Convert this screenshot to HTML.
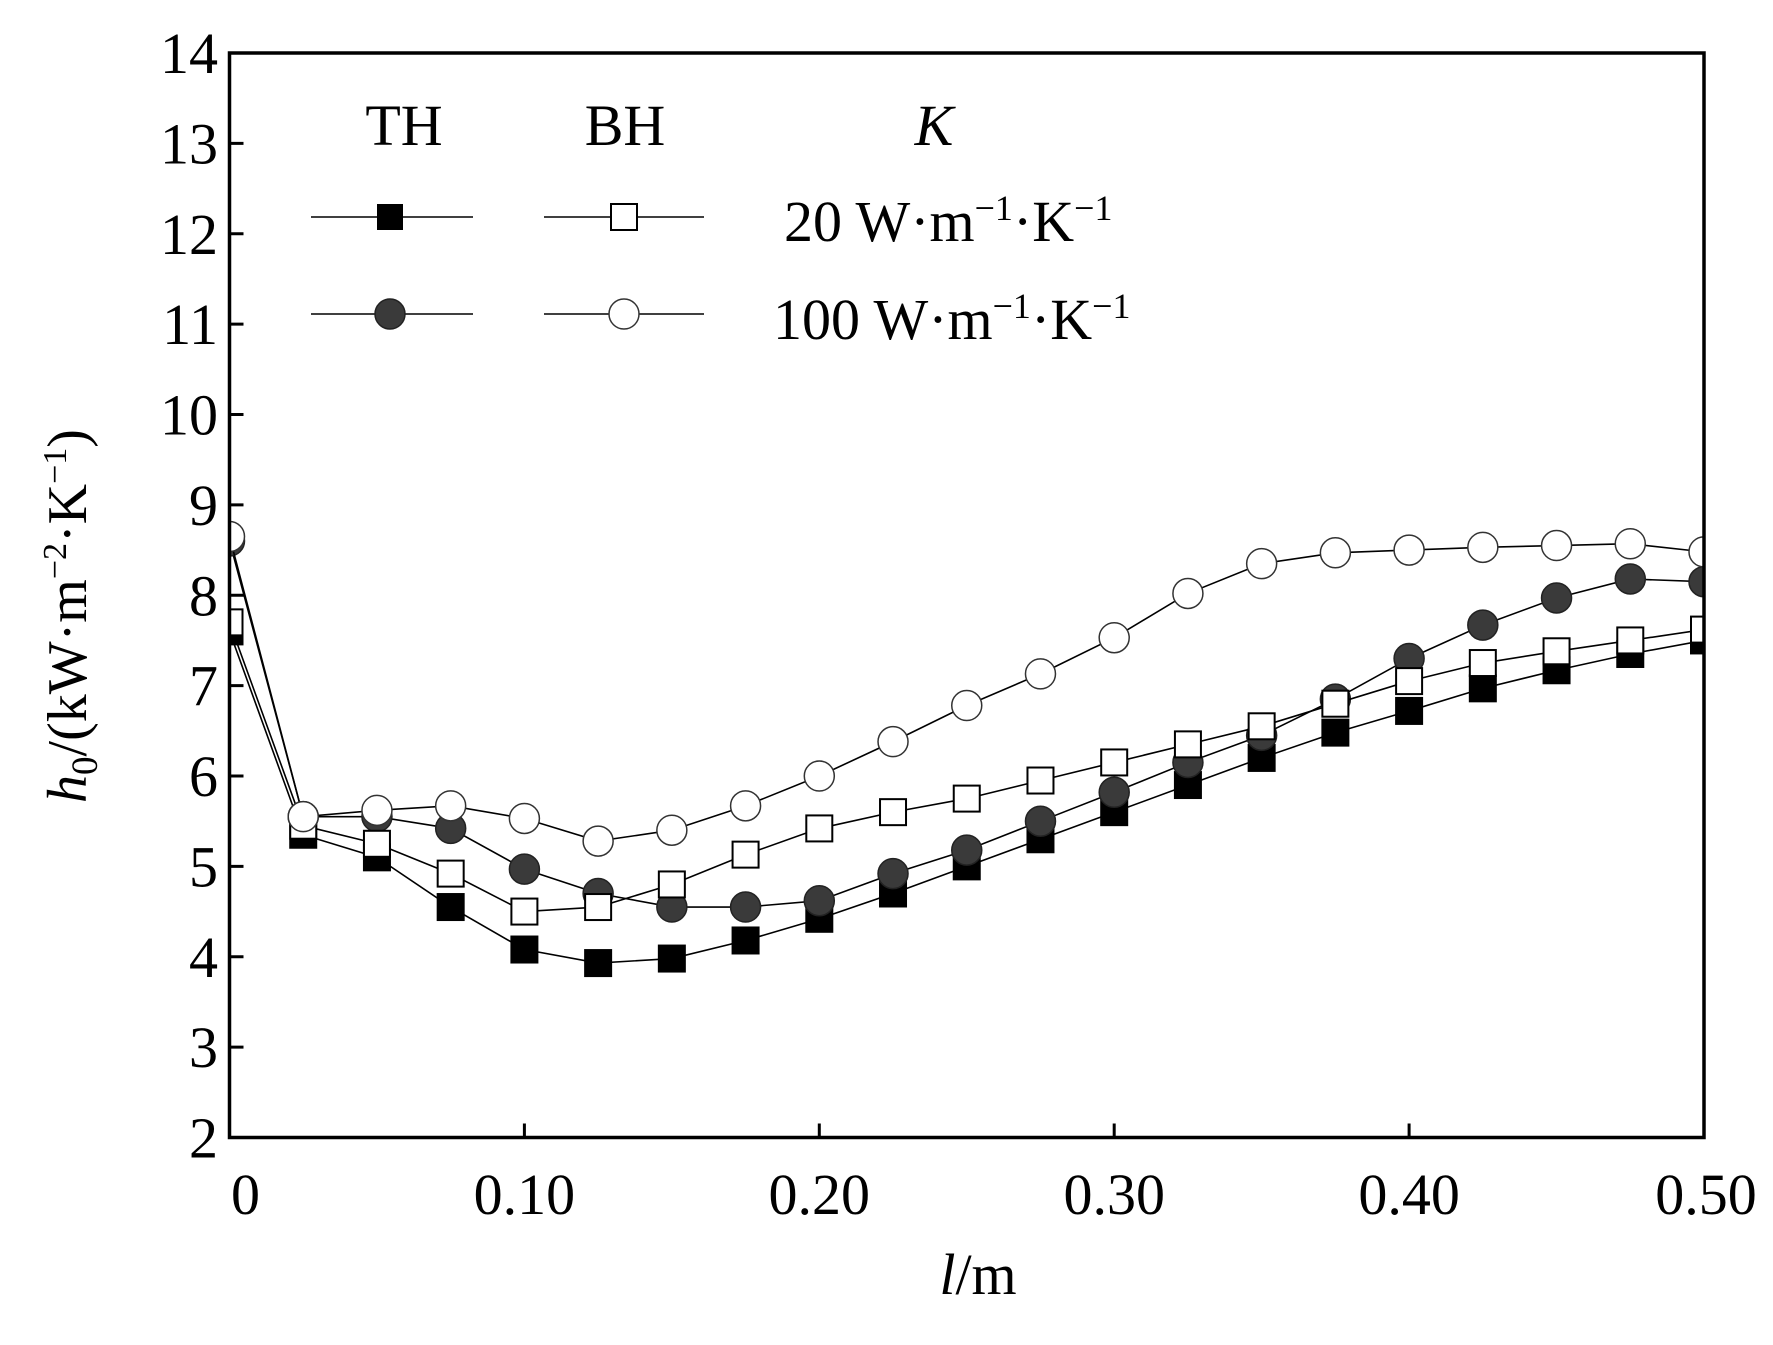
<!DOCTYPE html>
<html><head><meta charset="utf-8"><style>
html,body{margin:0;padding:0;background:#fff;}
svg{display:block;font-family:"Liberation Serif",serif;}
</style></head><body>
<svg id="chart" width="1773" height="1345" viewBox="0 0 1773 1345">
<defs><clipPath id="pc"><rect x="229.5" y="53" width="1474.5" height="1084.5"/></clipPath></defs>
<g id="marks" clip-path="url(#pc)"></g>
<rect x="229.5" y="53" width="1474.5" height="1084.5" fill="none" stroke="#000" stroke-width="3.5"/>
<g id="axes"></g>
<text x="978" y="1294" font-size="58" text-anchor="middle"><tspan font-style="italic">l</tspan>/m</text>
<text transform="translate(86,616) rotate(-90)" font-size="56" text-anchor="middle"><tspan font-style="italic">h</tspan><tspan font-size="37" dy="11">0</tspan><tspan dy="-11">/(kW·m</tspan><tspan font-size="34" dy="-20">−2</tspan><tspan dy="20">·K</tspan><tspan font-size="34" dy="-20">−1</tspan><tspan dy="20">)</tspan></text>
<g font-size="58">
<text x="404" y="145" text-anchor="middle">TH</text>
<text x="625" y="145" text-anchor="middle">BH</text>
<text x="934" y="145" text-anchor="middle" font-style="italic">K</text>
<g><line x1="311" y1="217" x2="473" y2="217" stroke="#000" stroke-width="1.6"/><rect x="377" y="204" width="26" height="26" fill="#000"/></g>
<g><line x1="544" y1="217" x2="704" y2="217" stroke="#000" stroke-width="1.6"/><rect x="611" y="204" width="26" height="26" fill="#fff" stroke="#000" stroke-width="2"/></g>
<g><line x1="311" y1="314" x2="473" y2="314" stroke="#000" stroke-width="1.6"/><circle cx="390" cy="314" r="15" fill="#3a3a3a" stroke="#222" stroke-width="1.5"/></g>
<g><line x1="544" y1="314" x2="704" y2="314" stroke="#000" stroke-width="1.6"/><circle cx="624" cy="314" r="15" fill="#fff" stroke="#333" stroke-width="1.5"/></g>
<text x="784" y="241">20 W·m<tspan font-size="36" dy="-21">−1</tspan><tspan dy="21">·K</tspan><tspan font-size="36" dy="-21">−1</tspan></text>
<text x="773" y="339">100 W·m<tspan font-size="36" dy="-21">−1</tspan><tspan dy="21">·K</tspan><tspan font-size="36" dy="-21">−1</tspan></text>
</g>
</svg>
<script>
const xs=[0,0.025,0.05,0.075,0.1,0.125,0.15,0.175,0.2,0.225,0.25,0.275,0.3,0.325,0.35,0.375,0.4,0.425,0.45,0.475,0.5];
const th20=[7.6,5.35,5.1,4.55,4.08,3.93,3.98,4.18,4.42,4.7,5.0,5.3,5.6,5.9,6.2,6.48,6.72,6.97,7.17,7.35,7.5];
const bh20=[7.7,5.45,5.25,4.92,4.5,4.55,4.8,5.13,5.42,5.6,5.75,5.95,6.15,6.35,6.55,6.8,7.05,7.25,7.38,7.5,7.62];
const th100=[8.6,5.55,5.55,5.42,4.97,4.7,4.55,4.55,4.62,4.92,5.18,5.5,5.82,6.15,6.45,6.85,7.3,7.67,7.97,8.18,8.15];
const bh100=[8.65,5.55,5.62,5.67,5.53,5.28,5.4,5.67,6.0,6.38,6.78,7.13,7.53,8.02,8.35,8.47,8.5,8.53,8.55,8.57,8.48];
const xTicks=[0,0.1,0.2,0.3,0.4,0.5];
const xTickLabels=["0","0.10","0.20","0.30","0.40","0.50"];
const yTicks=[2,3,4,5,6,7,8,9,10,11,12,13,14];

const NS="http://www.w3.org/2000/svg";
const X0=229.5,X1=1704,Y0=1137.5,Y1=53;
function sx(v){return X0+(v-0)/(0.5-0)*(X1-X0);}
function sy(v){return Y0-(v-2)/(14-2)*(Y0-Y1);}
function mk(tag,attrs,parent){const e=document.createElementNS(NS,tag);for(const k in attrs)e.setAttribute(k,attrs[k]);parent.appendChild(e);return e;}
const axes=document.getElementById('axes');
xTicks.forEach((t,i)=>{
  const l=mk('line',{x1:sx(t),x2:sx(t),y1:Y0,y2:Y0-14,stroke:'#000','stroke-width':3},axes);
  
  
  let ax=sx(t); if(i===0) ax=sx(t)+16; if(i===xTicks.length-1) ax=sx(t)+2;
  const tx=mk('text',{x:ax,y:1214,'font-size':58,'text-anchor':'middle'},axes);
  tx.textContent=xTickLabels[i];
  
  
});
yTicks.forEach(t=>{
  if(t!==2&&t!==14){
  const l=mk('line',{x1:X0,x2:X0+14,y1:sy(t),y2:sy(t),stroke:'#000','stroke-width':3},axes);
  
  }
  const tx=mk('text',{x:218,y:sy(t)+20,'font-size':58,'text-anchor':'end'},axes);
  tx.textContent=String(t);
  
  
});
const marks=document.getElementById('marks');
function series(vals,name,kind,fill,stroke){
  const g=mk('g',{},marks);
  
  
  const p=mk('polyline',{points:vals.map((v,i)=>sx(xs[i])+','+sy(v)).join(' '),fill:'none',stroke:'#000','stroke-width':1.6},g);
  
  
  vals.forEach((v,i)=>{
    let m;
    if(kind==='sq') m=mk('rect',{x:sx(xs[i])-13,y:sy(v)-13,width:26,height:26,fill:fill,stroke:stroke,'stroke-width':2},g);
    else m=mk('circle',{cx:sx(xs[i]),cy:sy(v),r:15,fill:fill,stroke:stroke,'stroke-width':1.5},g);
    
    
  });
}
series(th20,'series-th-20','sq','#000','#000');
series(th100,'series-th-100','ci','#3a3a3a','#222');
series(bh20,'series-bh-20','sq','#fff','#000');
series(bh100,'series-bh-100','ci','#fff','#333');
</script>
</body></html>
